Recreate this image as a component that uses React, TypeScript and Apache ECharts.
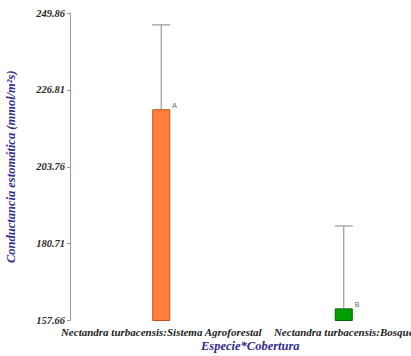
import React, { useEffect, useRef } from "react";
import * as echarts from "echarts";

const categories = [
  "Nectandra turbacensis:Sistema Agroforestal",
  "Nectandra turbacensis:Bosque",
];
const means = [221.0, 161.3];
const upperErr = [246.3, 186.0];
const letters = ["A", "B"];
const yTicks = [157.66, 180.71, 203.76, 226.81, 249.86];
const barColors = ["#ff7f3a", "#00a000"];
const barBorders = ["#c0501a", "#006400"];

export default function App() {
  const ref = useRef<HTMLDivElement>(null);
  useEffect(() => {
    const chart = echarts.init(ref.current!, null, { renderer: "svg" });
    const titleColor = "#332c8c";
    chart.setOption({
      animation: false,
      grid: { left: 70, right: -24, top: 13, bottom: 35.5, containLabel: false, outerBoundsMode: "none" },
      xAxis: {
        type: "category",
        data: categories,
        axisLine: { show: false },
        axisTick: { show: false },
        axisLabel: {
          interval: 0,
          margin: 6,
          fontFamily: "Liberation Serif",
          fontStyle: "italic",
          fontWeight: "bold",
          fontSize: 11,
          color: "#222",
        },
      },
      yAxis: {
        type: "value",
        min: yTicks[0],
        max: yTicks[yTicks.length - 1],
        axisLine: { show: true, lineStyle: { color: "#999", width: 1 } },
        axisTick: { show: true, length: 3, customValues: yTicks, lineStyle: { color: "#999" } },
        splitLine: { show: false },
        axisLabel: {
          customValues: yTicks,
          formatter: (v: number) => v.toFixed(2),
          margin: 5,
          fontFamily: "Liberation Serif",
          fontStyle: "italic",
          fontWeight: "bold",
          fontSize: 10.5,
          color: "#2a2a2a",
        },
        name: "Conductancia estomática (mmol/m²s)",
        nameLocation: "middle",
        nameGap: 53,
        nameTextStyle: {
          fontFamily: "Liberation Serif",
          fontStyle: "italic",
          fontWeight: "bold",
          fontSize: 12.5,
          color: titleColor,
        },
      },
      graphic: [
        {
          type: "text",
          left: 201,
          top: 339,
          style: {
            text: "Especie*Cobertura",
            font: "italic bold 12.5px 'Liberation Serif'",
            fill: titleColor,
          },
        },
      ],
      series: [
        {
          type: "bar",
          barWidth: 18,
          data: means.map((v, i) => ({
            value: v,
            itemStyle: { color: barColors[i], borderColor: barBorders[i], borderWidth: 1 },
            label: {
              show: true,
              formatter: letters[i],
              position: [20, -7],
              fontSize: 7,
              color: "#666",
              fontFamily: "Liberation Sans",
            },
          })),
          z: 2,
        },
        {
          type: "custom",
          data: means.map((m, i) => [i, m, upperErr[i]]),
          renderItem: (params: any, api: any) => {
            const i = api.value(0);
            const lo = api.coord([i, api.value(1)]);
            const hi = api.coord([i, api.value(2)]);
            const hw = 9;
            return {
              type: "group",
              children: [
                {
                  type: "line",
                  shape: { x1: lo[0], y1: lo[1], x2: hi[0], y2: hi[1] },
                  style: { stroke: "#999999", lineWidth: 1.2 },
                },
                {
                  type: "line",
                  shape: { x1: hi[0] - hw, y1: hi[1], x2: hi[0] + hw, y2: hi[1] },
                  style: { stroke: "#999999", lineWidth: 1.2 },
                },
              ],
            };
          },
          z: 3,
        },
      ],
    });
    return () => chart.dispose();
  }, []);
  return (
    <div
      ref={ref}
      style={{ position: "absolute", left: 0, top: 0, width: 411, height: 356, background: "#fff" }}
    />
  );
}
